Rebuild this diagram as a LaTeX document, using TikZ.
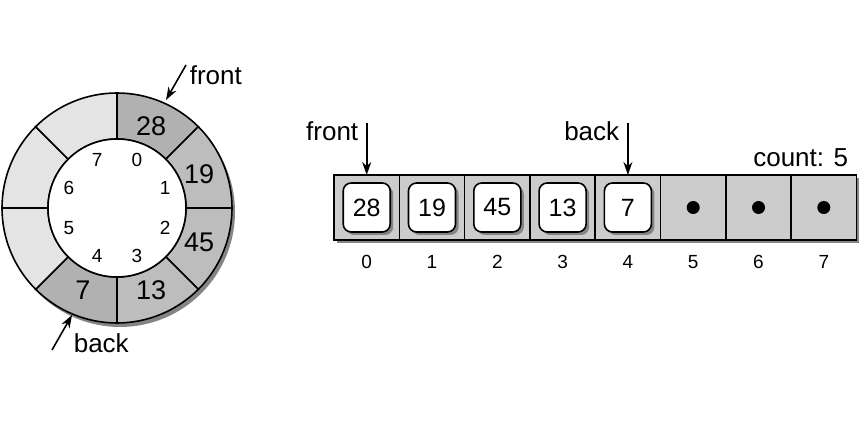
\documentclass[tikz,border=0pt]{standalone}
\usepackage{fontspec}
\setmainfont{Liberation Sans}
\usepackage{tikz}
\usetikzlibrary{arrows.meta}
\usetikzlibrary{positioning}
\usetikzlibrary{shadows}

\definecolor{endcol}{HTML}{B1B1B1}
\definecolor{usedcol}{HTML}{BDBDBD}
\definecolor{freecol}{HTML}{E4E4E4}
\definecolor{cellcol}{HTML}{CCCCCC}
\definecolor{shadecol}{HTML}{858585}

\begin{document}
\begin{tikzpicture}[x=1pt,y=1pt,line width=1.6pt,>={Stealth[length=13pt,width=9pt]}]
\tikzstyle{lbl}=[inner sep=0pt,font=\fontsize{26}{30}\selectfont]
\tikzstyle{val}=[inner sep=0pt,font=\fontsize{25}{30}\selectfont]
\tikzstyle{idx}=[inner sep=0pt,font=\fontsize{19}{22}\selectfont]
\tikzstyle{shade}=[drop shadow={shadow xshift=3pt,shadow yshift=-3pt,fill=shadecol,opacity=1}]
\tikzstyle{cell}=[rectangle,draw,fill=cellcol,minimum width=65.3pt,minimum height=65pt,outer sep=0pt,shade]
\tikzstyle{valbox}=[rectangle,rounded corners=8pt,draw,fill=white,minimum width=47pt,minimum height=49pt,shade,val]
\tikzstyle{dot}=[circle,fill,inner sep=0pt,minimum size=13pt]
\useasboundingbox (0,0) rectangle (861,431);

% ring buffer
\begin{scope}[shift={(117,223)}]
\coordinate (rc) at (0,0);
\fill[shadecol] (3,-4) circle (115);
\foreach \k/\c in {0/endcol,1/usedcol,2/usedcol,3/usedcol,4/endcol,5/freecol,6/freecol,7/freecol}
  \filldraw[fill=\c] ({90-45*\k}:115) arc[start angle=90-45*\k,end angle=45-45*\k,radius=115]
    -- ({45-45*\k}:69) arc[start angle=45-45*\k,end angle=90-45*\k,radius=69] -- cycle;
\filldraw[fill=white] (rc) circle (69);
\foreach \k/\v in {0/28,1/19,2/45,3/13,4/7}
  \node[val,font=\fontsize{27}{30}\selectfont] (r\k) at ({67.5-45*\k}:89) {\v};
\foreach \k in {0,...,7}
  \node[idx] (i\k) at ({67.5-45*\k}:52) {\k};
\node[lbl,anchor=base west] (rfront) at (72,123) {front};
\node[lbl,anchor=base west] (rback) at (-44,-144) {back};
\coordinate (rfs) at (69,143);
\coordinate (rft) at (49,108);
\coordinate (rbs) at (-65,-142);
\coordinate (rbt) at (-45,-107);
\draw[->] (rfs) -- (rft);
\draw[->] (rbs) -- (rbt);
\end{scope}

% array
\node[cell] (c0) at (366.7,223.5) {};
\foreach \k [count=\j from 0] in {1,...,7}
  \node[cell,right=0pt of c\j] (c\k) {};
\foreach \k/\v in {0/28,1/19,2/45,3/13,4/7}
  \node[valbox] (v\k) at (c\k) {\v};
\foreach \k in {5,6,7}
  \node[dot] (d\k) at (c\k) {};
\foreach \k in {0,...,7}
  \node[idx] (n\k) at ([yshift=-22pt]c\k.south) {\k};
\node[lbl,anchor=base east] (afront) at (359,290) {front};
\node[lbl,anchor=base east] (aback) at (620,290) {back};
\node[lbl,anchor=base east] (count) at (849,264) {count: 5};
\coordinate (afs) at ([yshift=52pt]c0.north);
\coordinate (abs) at ([yshift=52pt]c4.north);
\draw[->] (afs) -- (c0.north);
\draw[->] (abs) -- (c4.north);
\end{tikzpicture}
\end{document}
